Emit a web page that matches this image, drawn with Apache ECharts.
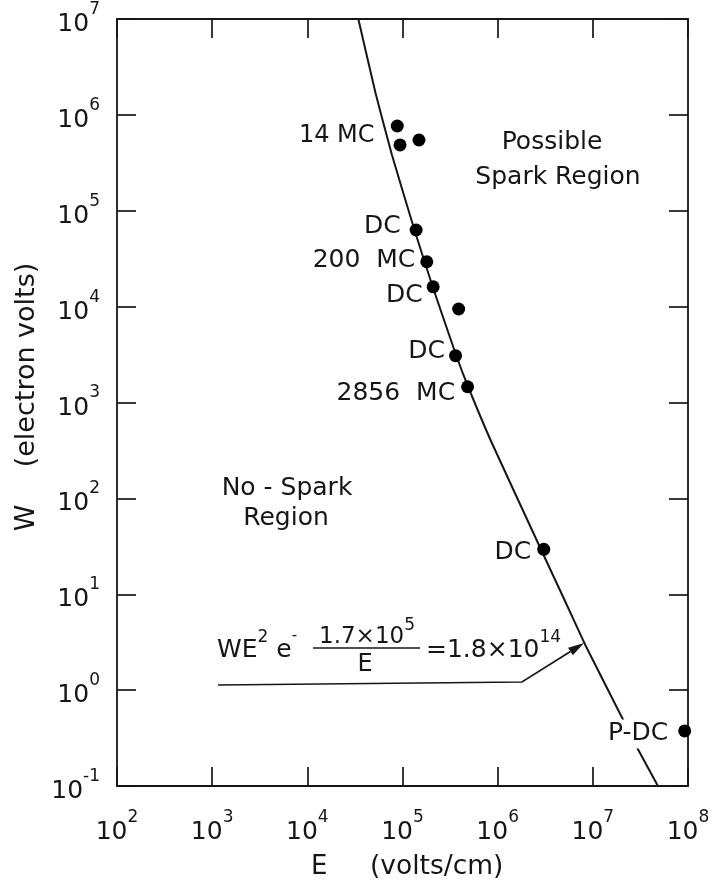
<!DOCTYPE html>
<html>
<head>
<meta charset="utf-8">
<script src="https://cdn.jsdelivr.net/npm/echarts@6/dist/echarts.min.js"></script>
<style>
  html, body { margin: 0; padding: 0; background: #fff; }
  #chart { width: 714px; height: 883px; }
</style>
</head>
<body>
<div id="chart"></div>
<script>
// ---- data (E in volts/cm, W in electron volts) ----
const curveE = [3.435e4, 5.206e4, 7.75e4, 1.336e5, 2.080e5, 3.687e5, 4.905e5, 8.694e5, 2.775e6, 5.393e6, 8.434e6, 2.087e7, 2.892e7, 4.830e7];
const curveW = [1e7, 1.691e6, 3.815e5, 6.299e4, 1.602e4, 3055, 1451, 378, 31.1, 7.54, 2.886, 0.488, 0.255, 0.1];

const pointE = [8.81e4, 9.42e4, 1.49e5, 1.39e5, 1.80e5, 2.10e5, 3.89e5, 3.61e5, 4.83e5, 3.05e6, 9.23e7];
const pointW = [7.66e5, 4.86e5, 5.47e5, 6.3e4, 2.94e4, 1.61e4, 9.44e3, 3.08e3, 1.46e3, 29.4, 0.375];
const pointLabels = ['', '14 MC', '', 'DC', '200  MC', 'DC', '', 'DC', '2856  MC', 'DC', 'P-DC'];

const xTickExponents = [2, 3, 4, 5, 6, 7, 8];
const yTickExponents = [-1, 0, 1, 2, 3, 4, 5, 6, 7];

const xTitle = ['E', '(volts/cm)'];
const yTitle = ['W', '(electron volts)'];

// ---- styling ----
const FONT = '"DejaVu Sans", Lato, sans-serif';
const INK = '#161616';
const labelLayout = {
  '14 MC':    { distance: 19, offset: [0, -9], size: 24 },
  'DC#3':     { distance: 9,  offset: [0, -3] },
  '200  MC':  { distance: 5,  offset: [0, -1] },
  'DC#5':     { distance: 4,  offset: [0, 9] },
  'DC#7':     { distance: 4,  offset: [0, -4] },
  '2856  MC': { distance: 6,  offset: [0, 7] },
  'DC#9':     { distance: 6,  offset: [0, 3] },
  'P-DC':     { distance: 9,  offset: [0, 3], bg: true }
};

const chart = echarts.init(document.getElementById('chart'), null, { renderer: 'canvas' });

const supLabel = function (v) {
  const e = Math.round(Math.log10(v));
  return '{b|10}{s|' + (e < 0 ? '-' + (-e) : e) + '}';
};
const supRich = {
  b: { fontSize: 25, fontFamily: FONT, color: INK, lineHeight: 36, verticalAlign: 'bottom' },
  s: { fontSize: 17, fontFamily: FONT, color: INK, lineHeight: 18, verticalAlign: 'top' }
};

const xMin = Math.pow(10, xTickExponents[0]);
const xMax = Math.pow(10, xTickExponents[xTickExponents.length - 1]);
const yMin = Math.pow(10, yTickExponents[0]);
const yMax = Math.pow(10, yTickExponents[yTickExponents.length - 1]);

const axisBase = {
  type: 'log', logBase: 10,
  axisLine: { show: true, lineStyle: { color: INK, width: 1.8 } },
  axisTick: { show: true, inside: true, length: 19, lineStyle: { color: INK, width: 1.7 } },
  minorTick: { show: false },
  splitLine: { show: false }
};

const lineData = curveE.map((e, i) => [e, curveW[i]]);
const scatterData = pointE.map((e, i) => {
  const name = pointLabels[i];
  const item = { value: [e, pointW[i]] };
  if (name) {
    const lay = labelLayout[name] || labelLayout[name + '#' + i] || { distance: 8, offset: [0, 0] };
    item.label = {
      show: true, formatter: name, position: 'left',
      distance: lay.distance, offset: lay.offset,
      fontSize: lay.size || 25, fontFamily: FONT, color: INK,
      backgroundColor: lay.bg ? '#fff' : 'transparent',
      padding: lay.bg ? [2, 1, 2, 1] : 0
    };
  }
  return item;
});

// annotation geometry (pixels)
const tail = [522, 682], tip = [584, 643];
const dx = tip[0] - tail[0], dy = tip[1] - tail[1], L = Math.hypot(dx, dy);
const ux = dx / L, uy = dy / L, ah = 16, aw = 4.5;
const bx = tip[0] - ah * ux, by = tip[1] - ah * uy;
const arrowHead = [[tip[0], tip[1]], [bx - aw * uy, by + aw * ux], [bx + aw * uy, by - aw * ux]];

function txt(text, x, y, size, align, rich, rotation) {
  const st = { text: text, fill: INK, font: 'normal ' + size + 'px ' + FONT,
               textAlign: align || 'left', textVerticalAlign: 'middle' };
  if (rich) st.rich = rich;
  const el = { type: 'text', x: x, y: y, z: 20, style: st };
  if (rotation) el.rotation = rotation;
  return el;
}
const fRich = {
  m: { fontSize: 25, fontFamily: FONT, fill: INK, lineHeight: 34, verticalAlign: 'bottom' },
  n: { fontSize: 23, fontFamily: FONT, fill: INK, lineHeight: 32, verticalAlign: 'bottom' },
  s: { fontSize: 17, fontFamily: FONT, fill: INK, lineHeight: 18, verticalAlign: 'top' },
  t: { fontSize: 15, fontFamily: FONT, fill: INK, lineHeight: 26, verticalAlign: 'top' }
};

const option = {
  backgroundColor: '#fff',
  animation: false,
  grid: { left: 117, right: 26, top: 19, bottom: 97, containLabel: false, outerBoundsMode: 'none' },
  xAxis: [
    Object.assign({}, axisBase, {
      min: xMin, max: xMax, splitNumber: 6, position: 'bottom',
      axisLabel: { show: true, margin: 23, interval: 0, showMinLabel: true, showMaxLabel: true,
                   formatter: supLabel, rich: supRich }
    }),
    Object.assign({}, axisBase, {
      min: xMin, max: xMax, splitNumber: 6, position: 'top',
      axisLabel: { show: false }
    })
  ],
  yAxis: [
    Object.assign({}, axisBase, {
      min: yMin, max: yMax, splitNumber: 8, position: 'left',
      axisLabel: { show: true, margin: 17, interval: 0, showMinLabel: true, showMaxLabel: true,
                   formatter: supLabel, rich: supRich }
    }),
    Object.assign({}, axisBase, {
      min: yMin, max: yMax, splitNumber: 8, position: 'right',
      axisLabel: { show: false }
    })
  ],
  series: [
    {
      type: 'line', xAxisIndex: 0, yAxisIndex: 0, z: 1,
      data: lineData, smooth: 0.15, showSymbol: false, symbol: 'none',
      lineStyle: { color: INK, width: 2 }, clip: true
    },
    {
      type: 'scatter', xAxisIndex: 0, yAxisIndex: 0, z: 5,
      data: scatterData, symbol: 'circle', symbolSize: 13,
      itemStyle: { color: '#000', opacity: 1 }, clip: false
    }
  ],
  graphic: [
    // axis titles
    txt(xTitle[0], 311, 867, 26, 'left'),
    txt(xTitle[1], 370, 867, 26.5, 'left'),
    txt(yTitle[0], 27, 518, 27, 'center', null, Math.PI / 2),
    txt(yTitle[1], 27, 365, 27, 'center', null, Math.PI / 2),
    // region labels
    txt('Possible', 552, 142, 25, 'center'),
    txt('Spark Region', 558, 177, 25, 'center'),
    txt('No - Spark', 287, 488, 25, 'center'),
    txt('Region', 286, 518, 25, 'center'),
    // formula annotation
    txt('{m|WE}{s|2}{m| e}{t|-}', 217, 646, 25, 'left', fRich),
    txt('{n|1.7\u00d710}{s|5}', 367, 633, 23, 'center', fRich),
    { type: 'line', z: 20, shape: { x1: 313, y1: 648, x2: 420, y2: 648 }, style: { stroke: INK, lineWidth: 1.7 } },
    txt('E', 365, 665, 24, 'center'),
    txt('{m|=1.8\u00d710}{s|14}', 426, 646, 25, 'left', fRich),
    { type: 'polyline', z: 20, shape: { points: [[218, 685], tail, [bx, by]] },
      style: { stroke: INK, lineWidth: 1.7, fill: null } },
    { type: 'polygon', z: 20, shape: { points: arrowHead }, style: { fill: INK } }
  ]
};

chart.setOption(option);
</script>
</body>
</html>
